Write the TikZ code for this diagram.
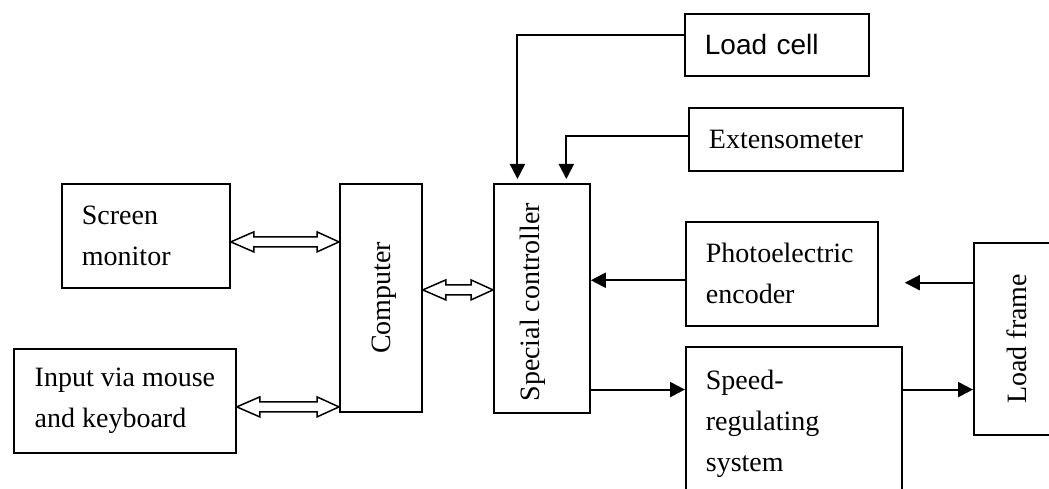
\documentclass[tikz,border=0pt]{standalone}
\usepackage{fontspec}
\setmainfont{Liberation Serif}
\newfontfamily\arialfont{Liberation Sans}
\usetikzlibrary{calc,arrows.meta}
\newcommand\hollowdbl[2]{%
  \draw[dbl] let \p1=#1, \p2=#2 in
    (\x1,\y1) -- (\x1+23pt,\y1+10pt) -- (\x1+23pt,\y1+5pt) -- (\x2-22pt,\y1+5pt)
    -- (\x2-22pt,\y1+10pt) -- (\x2,\y1) -- (\x2-22pt,\y1-10pt) -- (\x2-22pt,\y1-5pt)
    -- (\x1+23pt,\y1-5pt) -- (\x1+23pt,\y1-10pt) -- cycle;}
\begin{document}
\begin{tikzpicture}[x=1pt,y=-1pt,
  txt/.style={font=\fontsize{28}{41}\selectfont, inner sep=0pt},
  box/.style={draw, line width=1.8pt, inner sep=0pt, font=\fontsize{28}{41}\selectfont},
  tbox/.style={box, anchor=north west, align=left, inner xsep=20pt},
  sig/.style={line width=2pt,-{Triangle[length=15pt,width=15pt]}},
  dbl/.style={line width=1.5pt, fill=white, line join=miter}]

\useasboundingbox (0,0) rectangle (1049,489);
\clip (0,0) rectangle (1049,489);
\fill[white] (0,0) rectangle (1049,489);

% boxes
\node[tbox, text width=128pt, minimum height=104pt] (screen) at (61,183) {Screen\\monitor};
\node[box, anchor=north west, align=left, minimum width=222pt, minimum height=104pt] (input) at (13,348) {Input via mouse\\and keyboard};
\node[box, anchor=north west, minimum width=82pt, minimum height=228pt] (computer) at (339,183) {};
\node[txt, rotate=90] (computer-label) at ($(computer.center)+(3,0)$) {Computer};
\node[box, anchor=north west, minimum width=96pt, minimum height=229pt] (special) at (493,183) {};
\node[txt, rotate=90] (special-label) at ($(special.center)+(-9,4)$) {Special controller};
\node[tbox, text width=144pt, minimum height=62pt, font=\arialfont\fontsize{28}{41}\selectfont] (loadcell) at (684,13) {Load cell};
\node[tbox, text width=174pt, minimum height=63pt] (extenso) at (688,107) {Extensometer};
\node[tbox, text width=152pt, minimum height=104pt] (photo) at (685,221) {Photoelectric\\encoder};
\node[tbox, text width=176pt, inner ysep=23pt] (speed) at (685,346) {Speed-\\regulating\\system};
\node[box, anchor=north west, minimum width=92pt, minimum height=192pt] (frame) at (973,242) {};
\node[txt, rotate=90] (frame-label) at ($(frame.center)+(-3,0)$) {Load frame};

% signal arrows
\coordinate (lc-out) at ($(loadcell.north west)!0.34!(loadcell.south west)$);
\draw[sig, shorten >=4pt] (lc-out) -| ($(special.north west)!0.25!(special.north east)$);
\coordinate (ex-out) at ($(extenso.north west)!0.44!(extenso.south west)$);
\draw[sig, shorten >=4pt] (ex-out) -| ($(special.north west)!0.75!(special.north east)$);
\coordinate (ph-out) at ($(photo.north west)!0.56!(photo.south west)$);
\draw[sig] (ph-out) -- (ph-out -| special.east);
\coordinate (fr-out) at ($(frame.north west)!0.21!(frame.south west)$);
\coordinate (enc-in) at ($(photo.east |- fr-out)+(26,0)$);
\draw[sig] (fr-out) -- (enc-in);
\coordinate (sp-out) at ($(special.north east)!0.895!(special.south east)$);
\draw[sig] (sp-out) -- (sp-out -| speed.west);
\draw[sig] (sp-out -| speed.east) -- (sp-out -| frame.west);

% hollow double arrows
\hollowdbl{($(screen.east)+(0,6)$)}{(computer.west)}
\hollowdbl{($(input.east)+(0,6)$)}{(computer.west)}
\hollowdbl{($(computer.east)+(0,-8)$)}{(special.west)}
\end{tikzpicture}
\end{document}
